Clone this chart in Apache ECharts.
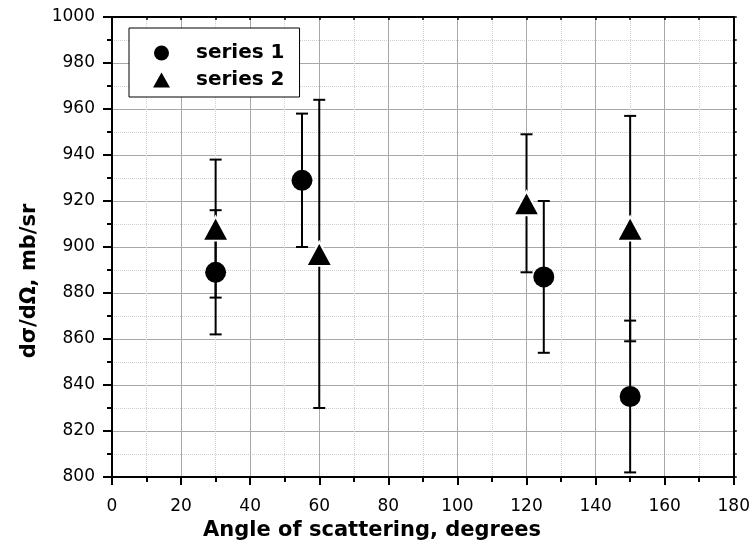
<!DOCTYPE html>
<html>
<head>
<meta charset="utf-8">
<script src="https://cdn.jsdelivr.net/npm/echarts@6/dist/echarts.min.js"></script>
<style>
  html, body { margin: 0; padding: 0; background: #fff; }
  #main { width: 753px; height: 548px; }
</style>
</head>
<body>
<div id="main"></div>
<script>
// data
var s1X  = [30, 55, 125, 150];
var s1Y  = [889, 929, 887, 835];
var s1Lo = [862, 900, 854, 802];
var s1Hi = [916, 958, 920, 868];

var s2X  = [30, 60, 120, 150];
var s2Y  = [908, 897, 919, 908];
var s2Lo = [878, 830, 889, 859];
var s2Hi = [938, 964, 949, 957];

var FONT = 'DejaVu Sans, sans-serif';

function points(xs, ys) {
    var out = [];
    for (var i = 0; i < xs.length; i++) out.push([xs[i], ys[i]]);
    return out;
}
function bars(xs, lo, hi) {
    var out = [];
    for (var i = 0; i < xs.length; i++) out.push([xs[i], lo[i], hi[i]]);
    return out;
}

// error bar with caps
function renderErr(params, api) {
    var top = api.coord([api.value(0), api.value(2)]);
    var bot = api.coord([api.value(0), api.value(1)]);
    var w = 6;
    var st = { stroke: '#000', lineWidth: 2 };
    return {
        type: 'group',
        children: [
            { type: 'line', shape: { x1: top[0], y1: top[1], x2: bot[0], y2: bot[1] }, style: st },
            { type: 'line', shape: { x1: top[0] - w, y1: top[1], x2: top[0] + w, y2: top[1] }, style: st },
            { type: 'line', shape: { x1: bot[0] - w, y1: bot[1], x2: bot[0] + w, y2: bot[1] }, style: st }
        ]
    };
}

var chart = echarts.init(document.getElementById('main'));

var gridLine = { show: true, lineStyle: { color: '#a8a8a8', width: 1 } };
var minorLine = { show: true, lineStyle: { color: '#cfcfcf', type: 'dotted', width: 1 } };
function plain(v) { return String(v); }

var option = {
    animation: false,
    backgroundColor: '#fff',
    grid: { left: 112, right: 16, top: 17, bottom: 71 },
    legend: {
        left: 129, top: 28,
        orient: 'vertical',
        data: ['series 1', 'series 2'],
        backgroundColor: '#fff',
        borderColor: '#000',
        borderWidth: 1,
        borderRadius: 0,
        padding: [15, 15, 7, 24],
        itemGap: 7,
        itemWidth: 17,
        itemHeight: 15,
        itemStyle: { borderWidth: 0 },
        textStyle: { color: '#000', fontSize: 20, fontWeight: 'bold', fontFamily: FONT, padding: [0, 0, 0, 21] }
    },
    graphic: [{
        type: 'text',
        style: {
            text: 'Angle of scattering, degrees',
            x: 372, y: 531, align: 'center', verticalAlign: 'middle',
            fill: '#000', font: 'bold 21px ' + FONT
        }
    }, {
        type: 'text',
        x: 30, y: 281, rotation: Math.PI / 2,
        style: {
            text: 'dσ/dΩ, mb/sr',
            x: 0, y: 0, align: 'center', verticalAlign: 'middle',
            fill: '#000', font: 'bold 21px ' + FONT
        }
    }],
    xAxis: [{
        type: 'value', min: 0, max: 180, interval: 20,
        axisLine: { show: true, onZero: false, lineStyle: { color: '#000', width: 2 } },
        axisTick: { show: true, inside: false, length: 8, lineStyle: { color: '#000', width: 2 } },
        minorTick: { show: true, splitNumber: 2, length: 5, lineStyle: { color: '#000', width: 2 } },
        axisLabel: { color: '#000', fontSize: 17, fontFamily: FONT, margin: 21, formatter: plain },
        splitLine: gridLine,
        minorSplitLine: minorLine
    }, {
        type: 'value', min: 0, max: 180, interval: 20, position: 'top',
        axisLine: { show: true, onZero: false, lineStyle: { color: '#000', width: 2 } },
        axisTick: { show: true, inside: true, length: 3, lineStyle: { color: '#000', width: 1.5 } },
        minorTick: { show: true, splitNumber: 2, length: 3, lineStyle: { color: '#000', width: 1.5 } },
        axisLabel: { show: false },
        splitLine: { show: false }
    }],
    yAxis: [{
        type: 'value', min: 800, max: 1000, interval: 20,
        axisLine: { show: true, onZero: false, lineStyle: { color: '#000', width: 2 } },
        axisTick: { show: true, inside: false, length: 9, lineStyle: { color: '#000', width: 2 } },
        minorTick: { show: true, splitNumber: 2, length: 5, lineStyle: { color: '#000', width: 2 } },
        axisLabel: { color: '#000', fontSize: 17, fontFamily: FONT, margin: 17, formatter: plain },
        splitLine: gridLine,
        minorSplitLine: minorLine
    }, {
        type: 'value', min: 800, max: 1000, interval: 20, position: 'right',
        axisLine: { show: true, onZero: false, lineStyle: { color: '#000', width: 2 } },
        axisTick: { show: true, inside: false, length: 3, lineStyle: { color: '#000', width: 1.5 } },
        minorTick: { show: true, splitNumber: 2, length: 3, lineStyle: { color: '#000', width: 1.5 } },
        axisLabel: { show: false },
        splitLine: { show: false }
    }],
    series: [
        {
            name: 'err1', type: 'custom', renderItem: renderErr,
            data: bars(s1X, s1Lo, s1Hi), z: 2, silent: true
        },
        {
            name: 'err2', type: 'custom', renderItem: renderErr,
            data: bars(s2X, s2Lo, s2Hi), z: 2, silent: true
        },
        {
            name: 'series 1', type: 'scatter',
            symbol: 'circle', symbolSize: 21,
            itemStyle: { color: '#000', opacity: 1 },
            data: points(s1X, s1Y), z: 5
        },
        {
            name: 'series 2', type: 'scatter',
            symbol: 'triangle', symbolSize: [26, 24],
            itemStyle: { color: '#000', opacity: 1, borderColor: '#fff', borderWidth: 2 },
            data: points(s2X, s2Y), z: 5
        }
    ]
};

chart.setOption(option);
</script>
</body>
</html>
